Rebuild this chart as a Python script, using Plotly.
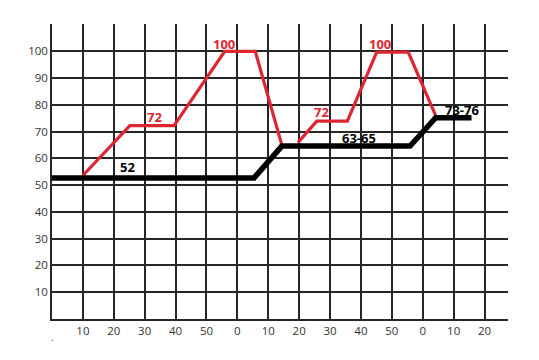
import plotly.graph_objects as go

# Black baseline series
black_x = [0, 65.4, 74.4, 115.9, 124.2, 135.8]
black_y = [52.7, 52.7, 64.6, 64.6, 75.2, 75.2]

# Red series (two segments)
red1_x = [10, 25.2, 39.5, 55.9, 65.8, 74.5]
red1_y = [53.6, 72.2, 72.2, 100, 100, 64.6]
red2_x = [79.6, 85.7, 95.6, 105.1, 115.3, 124.2]
red2_y = [65.9, 73.9, 73.9, 99.7, 99.7, 76]

# Labels
red_labels = ["100", "72", "72", "100"]
red_label_x = [55.7, 33.3, 87.3, 106.1]
red_label_y = [102.6, 75.3, 77.2, 102.9]
black_labels = ["52", "63-65", "73-76"]
black_label_x = [24.3, 99.4, 132.6]
black_label_y = [56.7, 67.5, 77.9]

# Ticks
x_tickvals = [10, 20, 30, 40, 50, 60, 70, 80, 90, 100, 110, 120, 130, 140]
x_ticktext = ["10", "20", "30", "40", "50", "0", "10", "20", "30", "40", "50", "0", "10", "20"]
y_tickvals = [0, 10, 20, 30, 40, 50, 60, 70, 80, 90, 100, 110]
y_ticktext = ["", "10", "20", "30", "40", "50", "60", "70", "80", "90", "100", ""]

RED = "#dc2632"

fig = go.Figure()
fig.add_trace(go.Scatter(x=red1_x, y=red1_y, mode="lines",
                         line=dict(color=RED, width=3.2), hoverinfo="skip"))
fig.add_trace(go.Scatter(x=red2_x, y=red2_y, mode="lines",
                         line=dict(color=RED, width=3.2), hoverinfo="skip"))
fig.add_trace(go.Scatter(x=black_x, y=black_y, mode="lines",
                         line=dict(color="black", width=5.5), hoverinfo="skip"))

for t, x, y in zip(red_labels, red_label_x, red_label_y):
    fig.add_annotation(x=x, y=y, text="<b>%s</b>" % t, showarrow=False,
                       font=dict(color=RED, size=13, family="Open Sans"))
for t, x, y in zip(black_labels, black_label_x, black_label_y):
    fig.add_annotation(x=x, y=y, text="<b>%s</b>" % t, showarrow=False,
                       font=dict(color="black", size=13, family="Open Sans"))

# small stray dot below the axis, as in the reference
fig.add_annotation(x=0.3, y=-0.09, xref="x", yref="paper", text=".",
                   showarrow=False, font=dict(color="#555555", size=10))

fig.update_layout(
    width=539, height=360,
    margin=dict(l=52, r=31, t=24, b=41),
    paper_bgcolor="white", plot_bgcolor="white",
    showlegend=False,
    font=dict(family="Open Sans", size=11.5, color="#333333"),
)
fig.update_xaxes(range=[0, 147.6], tickvals=x_tickvals, ticktext=x_ticktext,
                 showgrid=True, gridcolor="#262626", gridwidth=1.5,
                 showline=True, linecolor="#262626", linewidth=1.5,
                 zeroline=False, ticks="", fixedrange=True)
fig.update_yaxes(range=[0, 110.2], tickvals=y_tickvals, ticktext=y_ticktext,
                 showgrid=True, gridcolor="#262626", gridwidth=1.5,
                 showline=True, linecolor="#262626", linewidth=1.5,
                 zeroline=False, ticks="", fixedrange=True)

fig.write_html("out.html")
